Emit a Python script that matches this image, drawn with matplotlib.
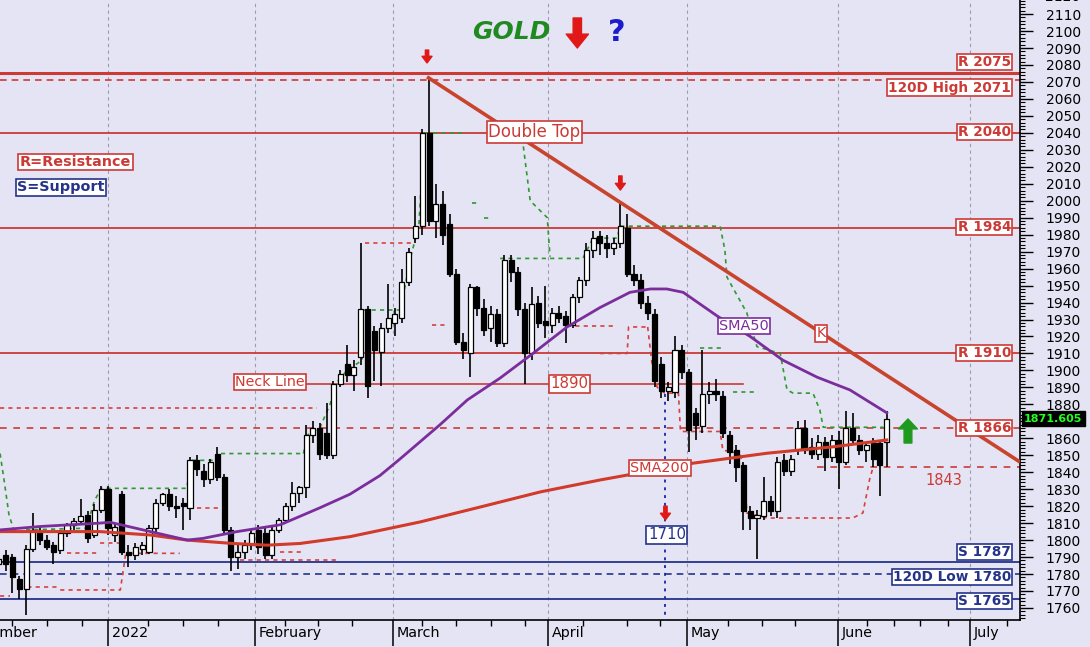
import numpy as np
import matplotlib
matplotlib.use("Agg")
import matplotlib.pyplot as plt
from matplotlib.transforms import blended_transform_factory

plt.rcParams["font.family"] = ["DejaVu Sans"]

# ---------------------------------------------------------------
# daily candles (bar index 0 = first bar at the left edge)
# ---------------------------------------------------------------
opens = [1786, 1791, 1790, 1777, 1771, 1795, 1805, 1800, 1797, 1794,
         1804, 1809, 1811, 1815, 1803, 1818, 1830, 1803, 1827, 1793,
         1791, 1795, 1793, 1807, 1822, 1827, 1820, 1822, 1819, 1847,
         1841, 1836, 1851, 1837, 1806, 1790, 1793, 1797, 1806, 1804,
         1791, 1806, 1812, 1820, 1828, 1831, 1862, 1866, 1863, 1850,
         1892, 1904, 1897, 1908, 1936, 1923, 1911, 1925, 1928, 1931,
         1952, 1978, 1985, 2040, 1988, 1998, 1986, 1957, 1917, 1910,
         1949, 1937, 1925, 1933, 1916, 1965, 1958, 1936, 1910, 1940,
         1929, 1927, 1934, 1932, 1927, 1943, 1953, 1971, 1979, 1975,
         1972, 1975, 1984, 1957, 1953, 1940, 1933, 1904, 1888, 1887,
         1912, 1899, 1875, 1867, 1886, 1888, 1885, 1862, 1853, 1844,
         1817, 1813, 1814, 1823, 1817, 1847, 1841, 1853, 1866, 1855,
         1851, 1858, 1849, 1859, 1846, 1866, 1859, 1853, 1857, 1857,
         1858]
highs = [1792, 1794, 1792, 1779, 1797, 1816, 1808, 1803, 1799, 1806,
         1810, 1813, 1824, 1817, 1821, 1832, 1832, 1810, 1829, 1797,
         1798, 1799, 1809, 1824, 1828, 1830, 1826, 1825, 1849, 1850,
         1845, 1848, 1855, 1839, 1808, 1797, 1800, 1806, 1809, 1807,
         1808, 1813, 1822, 1834, 1832, 1868, 1870, 1869, 1881, 1894,
         1900, 1915, 1906, 1975, 1938, 1926, 1928, 1951, 1937, 1960,
         1972, 2003, 2042, 2073, 2010, 2006, 1992, 1960, 1922, 1951,
         1950, 1942, 1938, 1936, 1968, 1968, 1961, 1940, 1949, 1944,
         1950, 1937, 1938, 1935, 1945, 1955, 1975, 1982, 1982, 1980,
         1978, 1998, 1992, 1962, 1957, 1944, 1936, 1908, 1893, 1920,
         1915, 1901, 1878, 1912, 1893, 1895, 1888, 1864, 1856, 1846,
         1820, 1818, 1837, 1826, 1849, 1851, 1850, 1870, 1871, 1860,
         1862, 1861, 1862, 1864, 1876, 1875, 1862, 1858, 1860, 1859,
         1876]
lows = [1780, 1782, 1769, 1765, 1756, 1793, 1797, 1794, 1786, 1792,
        1802, 1806, 1809, 1798, 1801, 1816, 1803, 1799, 1791, 1784,
        1788, 1791, 1792, 1805, 1820, 1817, 1813, 1806, 1812, 1838,
        1831, 1833, 1835, 1804, 1782, 1783, 1789, 1794, 1792, 1789,
        1789, 1804, 1810, 1817, 1822, 1825, 1857, 1847, 1848, 1848,
        1890, 1893, 1888, 1903, 1884, 1894, 1891, 1922, 1920, 1928,
        1950, 1975, 1980, 1985, 1978, 1974, 1955, 1915, 1907, 1896,
        1932, 1920, 1917, 1914, 1914, 1952, 1932, 1892, 1906, 1925,
        1919, 1922, 1928, 1916, 1925, 1940, 1950, 1966, 1968, 1966,
        1968, 1972, 1955, 1950, 1936, 1930, 1890, 1884, 1882, 1884,
        1895, 1852, 1859, 1863, 1880, 1882, 1860, 1845, 1834, 1806,
        1806, 1789, 1812, 1814, 1813, 1838, 1838, 1850, 1851, 1848,
        1847, 1841, 1846, 1830, 1844, 1856, 1850, 1846, 1843, 1826,
        1843]
closes = [1789, 1786, 1778, 1771, 1795, 1806, 1800, 1796, 1793, 1804,
          1809, 1811, 1814, 1801, 1818, 1830, 1807, 1808, 1793, 1791,
          1796, 1797, 1807, 1822, 1827, 1820, 1819, 1820, 1847, 1842,
          1836, 1846, 1837, 1806, 1790, 1793, 1797, 1804, 1796, 1791,
          1806, 1812, 1820, 1828, 1831, 1862, 1866, 1851, 1850, 1892,
          1898, 1897, 1902, 1936, 1891, 1912, 1925, 1931, 1933, 1952,
          1970, 1985, 2040, 1988, 1998, 1980, 1957, 1917, 1912, 1949,
          1937, 1924, 1933, 1916, 1965, 1958, 1936, 1910, 1939, 1928,
          1927, 1934, 1931, 1927, 1943, 1953, 1971, 1978, 1975, 1972,
          1975, 1985, 1957, 1953, 1940, 1934, 1894, 1888, 1890, 1912,
          1899, 1865, 1868, 1886, 1888, 1886, 1863, 1852, 1843, 1817,
          1813, 1815, 1823, 1817, 1846, 1841, 1848, 1866, 1853, 1851,
          1858, 1849, 1859, 1846, 1866, 1859, 1853, 1856, 1848, 1844,
          1871.6]
last_price = "1871.605"

# moving averages at a few bars
sma50_x = [0.2, 6.0, 14.8, 16.3, 22.2, 27.6, 29.9, 34.9, 41.2, 47.0, 51.4, 55.8,
           58.8, 61.7, 64.6, 68.6, 73.4, 78.2, 83.2, 88.0, 92.4, 95.4, 97.8,
           100.2, 105.2, 110.0, 114.8, 119.8, 124.6, 130.0]
sma50_y = [1806, 1808, 1810, 1810.5, 1805, 1800, 1801, 1805, 1809, 1819, 1827, 1838,
           1848, 1858, 1868, 1882.6, 1895.5, 1910, 1925.6, 1937, 1946, 1948, 1948,
           1946, 1932, 1920, 1906, 1896, 1888.5, 1875]
sma200_x = [0.2, 14.8, 22.2, 27.6, 34.3, 39.3, 44.1, 51.4, 61.7, 70.5, 79.3,
            88.0, 101.6, 112.5, 122.2, 130.0]
sma200_y = [1805, 1805, 1803, 1800, 1798, 1797, 1798, 1802, 1810.7, 1819.5,
            1828.4, 1835.4, 1845.3, 1851.2, 1855, 1859]

# upper (green) and lower (red) trailing bands, as step paths
green_paths = [
    ([0.2, 0.8, 1.5, 2.2, 4.0], [1851, 1835, 1815, 1806, 1804]),
    ([4.0, 12.8, 14.0, 15.0, 27.5, 28.3, 31.8, 32.3, 44.6],
     [1806, 1807, 1823, 1830.5, 1830.5, 1847, 1847, 1851, 1851]),
    ([44.6, 45.2, 47.0, 48.5, 49.5, 51.0, 53.2, 53.3, 58.8, 59.5, 60.5, 61.5, 62.3, 68.5],
     [1851, 1862, 1866, 1880, 1893, 1900, 1906, 1935.6, 1935.6, 1950, 1970, 1985, 2040, 2040]),
    ([69.3, 70.5], [1998.5, 1998.5]),
    ([71.0, 72.2], [1990, 1990]),
    ([76.8, 77.8, 80.3, 80.7], [2032, 2000, 1990, 1967]),
    ([73.4, 85.5, 86.0, 87.0, 90.5, 91.0, 105.6, 106.3, 106.6, 109.5, 111.0, 114.4,
      115.4, 116.3, 119.2, 120.2, 120.7, 129.5],
     [1966, 1966, 1970, 1978, 1978, 1985, 1985, 1971, 1955, 1934, 1914, 1910,
      1888.5, 1886.6, 1886.6, 1876.7, 1866.5, 1866.5]),
    ([102.7, 106.0], [1913, 1913]),
    ([107.5, 111.0], [1887.5, 1887.5]),
]
red_paths = [
    ([0.2, 46.6], [1878, 1878]),
    ([0.2, 1.7], [1767, 1767]),
    ([3.0, 9.0], [1772.6, 1772.6]),
    ([9.0, 17.8, 18.6, 26.5], [1770.6, 1770.6, 1792.2, 1792.2]),
    ([10.0, 14.8], [1792.2, 1792.2]),
    ([14.8, 17.8], [1798, 1798]),
    ([29.0, 32.8], [1818.7, 1818.7]),
    ([35.3, 49.5], [1788, 1788]),
    ([41.2, 44.6], [1793, 1793]),
    ([53.6, 60.5], [1975, 1975]),
    ([63.4, 65.5], [1927, 1927]),
    ([83.2, 90.0], [1926, 1926]),
    ([88.0, 92.0, 92.2, 95.0], [1910, 1910, 1925.6, 1925.6]),
    ([95.0, 95.6, 96.4, 97.5, 99.5, 99.8, 105.6, 106.0, 108.5, 109.2, 109.5,
      112.5, 125.0, 126.5, 127.5, 128.0],
     [1925.6, 1905, 1890, 1886.6, 1886.6, 1864, 1864, 1853, 1851, 1841, 1816,
      1813, 1813, 1816, 1836, 1843]),
]

# support / resistance levels
resistance = [2075, 2040, 1984, 1910]
resistance_lw = [2.2, 1.3, 1.3, 1.3]
high_120d = 2071
r_dashed = 1866
support = [1787, 1765]
low_120d = 1780
neck_level = 1892
neck_span = [45.1, 109.0]
level_1843 = 1843
k_line_x = [62.7, 149.5]
k_line_y = [2073, 1846]
target_bar = 97.6

month_names = ["December", "2022", "February", "March", "April", "May", "June", "July"]
month_pos = [-5.75, 16.0, 37.5, 57.7, 80.4, 100.8, 122.9, 142.2]
week_pos = [1.9, 7.0, 12.2, 21.9, 27.0, 32.1, 41.9, 46.7, 51.7, 62.0, 67.0,
            72.0, 77.0, 85.5, 92.0, 96.8, 106.8, 111.7, 116.6, 127.1, 131.0,
            134.9, 139.0, 147.6]

BG = "#e4e4f4"
RED = "#cc3a36"
NAVY = "#25338a"
PURPLE = "#7b2d9b"
GREEN = "#2e9a2e"

fig = plt.figure(figsize=(10.9, 6.47), dpi=100)
fig.patch.set_facecolor(BG)
ax = fig.add_axes([0, 27 / 647, 1020 / 1090, 620 / 647])
ax.set_facecolor(BG)
ax.set_xlim(0.19, 149.5)
ax.set_ylim(1752.9, 2118.3)

# month grid
for m in month_pos[1:]:
    ax.axvline(m, color="#9c9cae", lw=0.8, ls=(0, (3, 3)), zorder=1)

# levels
for lev, lw in zip(resistance, resistance_lw):
    ax.axhline(lev, color=RED, lw=lw, zorder=2)
ax.axhline(high_120d, color=RED, lw=1.2, ls=(0, (4, 3)), zorder=2)
ax.axhline(r_dashed, color=RED, lw=1.2, ls=(0, (4, 4)), zorder=2)
for lev in support:
    ax.axhline(lev, color=NAVY, lw=1.3, zorder=2)
ax.axhline(low_120d, color=NAVY, lw=1.2, ls=(0, (4, 3)), zorder=2)
ax.plot(neck_span, [neck_level] * 2, color=RED, lw=1.2, zorder=2)
ax.plot([119.8, 149.5], [level_1843] * 2, color=RED, lw=1.2, ls=(0, (4, 4)), zorder=2)

# indicator bands
for xs, ys in green_paths:
    ax.plot(xs, ys, color=GREEN, lw=1.2, ls=(0, (2.5, 2.5)), zorder=3)
for xs, ys in red_paths:
    ax.plot(xs, ys, color="#d8403a", lw=1.2, ls=(0, (2.5, 2.5)), zorder=3)

# vertical target line
ax.plot([target_bar, target_bar], [1886, 1752.9], color="#2233aa", lw=1.4,
        ls=(0, (1.5, 2.5)), zorder=3)

# candles
o = np.array(opens, float)
h = np.array(highs, float)
l = np.array(lows, float)
c = np.array(closes, float)
xs = np.arange(len(o))
ax.vlines(xs, l, h, color="black", lw=1.2, zorder=4)
bottom = np.minimum(o, c)
height = np.maximum(np.abs(c - o), 0.8)
colors = np.where(c >= o, "white", "black")
ax.bar(xs, height, bottom=bottom, width=0.74, color=colors, edgecolor="black",
       linewidth=0.9, zorder=5)

# moving averages and trend line
ax.plot(sma200_x, sma200_y, color="#d23a2a", lw=2.2, zorder=6)
ax.plot(sma50_x, sma50_y, color=PURPLE, lw=2.0, zorder=6)
ax.plot(k_line_x, k_line_y, color="#c8442c", lw=2.6, zorder=6, solid_capstyle="butt")


def box(x, y, text, color, ha="center", bold=False, size=10.5):
    ax.text(x, y, text, color=color, ha=ha, va="center", fontsize=size,
            fontweight="bold" if bold else "normal", zorder=9,
            bbox=dict(boxstyle="square,pad=0.1", fc="white", ec=color, lw=1.2))


# right hand level labels
box(148.2, 2081.7, "R 2075", RED, ha="right", bold=True, size=9.8)
box(148.2, 2066.7, "120D High 2071", RED, ha="right", bold=True, size=9.8)
box(148.2, 2040.5, "R 2040", RED, ha="right", bold=True, size=9.8)
box(148.2, 1984.5, "R 1984", RED, ha="right", bold=True, size=9.8)
box(148.2, 1910.3, "R 1910", RED, ha="right", bold=True, size=9.8)
box(148.2, 1866.1, "R 1866", RED, ha="right", bold=True, size=9.8)
box(148.2, 1793.0, "S 1787", NAVY, ha="right", bold=True, size=9.8)
box(148.2, 1778.3, "120D Low 1780", NAVY, ha="right", bold=True, size=9.8)
box(148.2, 1764.1, "S 1765", NAVY, ha="right", bold=True, size=9.8)

# pattern labels
box(78.4, 2040.5, "Double Top", RED, size=12)
box(39.7, 1893.2, "Neck Line", RED, size=10.3)
box(83.6, 1892.0, "1890", RED, size=10.8)
box(109.1, 1926.2, "SMA50", PURPLE, size=10.4)
box(120.4, 1922.0, "K", RED, size=10.4)
box(96.8, 1842.5, "SMA200", RED, size=10.4)
box(97.8, 1803.0, "1710", NAVY, size=10.8)
box(3.1, 2022.8, "R=Resistance", RED, ha="left", bold=True, size=10.4)
box(2.7, 2008.0, "S=Support", NAVY, ha="left", bold=True, size=10.4)
ax.text(138.3, 1835.4, "1843", color=RED, fontsize=10.5, ha="center", va="center", zorder=9)

# title
ax.text(75.0, 2099.4, "GOLD", color="#1f8a1f", fontsize=18, fontweight="bold",
        style="italic", ha="center", va="center", zorder=9)
ax.text(90.5, 2099.4, "?", color="#1c1ccc", fontsize=22, fontweight="bold",
        ha="center", va="center", zorder=9)


def arrow(x, y0, y1, color, scale, hw=0.8, tw=0.3, hl=0.5):
    ax.annotate("", xy=(x, y1), xytext=(x, y0), zorder=9,
                arrowprops=dict(arrowstyle=f"simple,head_width={hw},head_length={hl},tail_width={tw}",
                                color=color, shrinkA=0, shrinkB=0, mutation_scale=scale))


arrow(84.7, 2107.7, 2090.0, "#e01818", 20)
arrow(62.7, 2088.8, 2081.2, "#e01818", 8, hw=0.9, tw=0.3, hl=0.6)
arrow(91.0, 2014.6, 2006.3, "#e01818", 8, hw=0.9, tw=0.3, hl=0.6)
arrow(97.6, 1820.0, 1811.9, "#e01818", 8, hw=0.9, tw=0.3, hl=0.6)
arrow(133.1, 1857.2, 1871.4, "#1f9a1f", 16, hw=0.85, tw=0.35, hl=0.45)

# axes styling
for side in ["top", "left"]:
    ax.spines[side].set_visible(False)
for side in ["right", "bottom"]:
    ax.spines[side].set_linewidth(1.2)
    ax.spines[side].set_color("black")

ax.yaxis.tick_right()
ax.set_yticks(np.arange(1760, 2111, 10))
ax.set_yticks(np.arange(1754, 2119, 2), minor=True)
ax.tick_params(axis="y", which="major", direction="out", length=9.4, width=1,
               labelsize=10, pad=9)
ax.tick_params(axis="y", which="minor", direction="out", length=3.6, width=0.8)

# top label, half cut by the figure edge
ax.text(1.0 + 25 / 1020, 2120, "2120",
        transform=blended_transform_factory(ax.transAxes, ax.transData),
        fontsize=10, ha="left", va="center", clip_on=False)

ax.set_xticks(month_pos[1:])
ax.set_xticklabels([])
ax.set_xticks(week_pos, minor=True)
ax.tick_params(axis="x", which="major", direction="out", length=19, width=1.1)
ax.tick_params(axis="x", which="minor", direction="out", length=4.5, width=1)

trans = blended_transform_factory(ax.transData, ax.transAxes)
for name, pos in zip(month_names, month_pos):
    ax.text(pos + 0.55, -0.021, name, transform=trans, fontsize=10.3,
            ha="left", va="center", clip_on=False)

# last price tag
ptrans = blended_transform_factory(ax.transAxes, ax.transData)
ax.text(1.004, c[-1], last_price, transform=ptrans, color="#22ff22", fontsize=8,
        fontweight="bold", ha="left", va="center", clip_on=False, zorder=10,
        bbox=dict(boxstyle="square,pad=0.2", fc="black", ec="black"))

fig.savefig("out.png", dpi=100, facecolor=BG)
